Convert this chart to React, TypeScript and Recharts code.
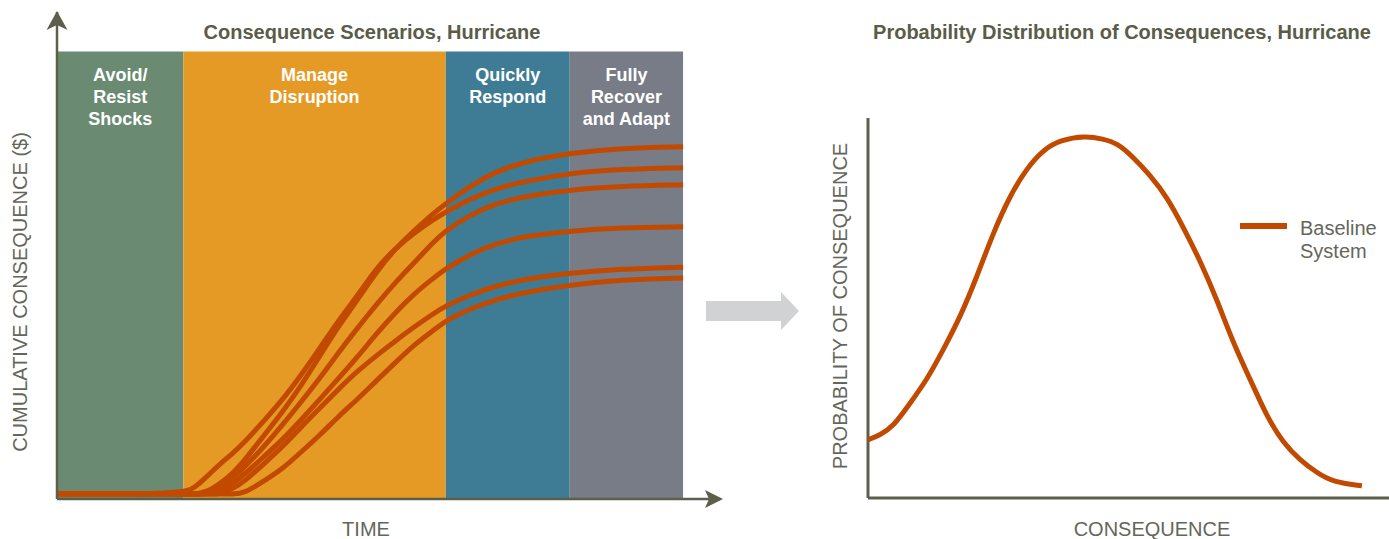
import React from "react";
import {
  ComposedChart,
  LineChart,
  Line,
  XAxis,
  YAxis,
  ReferenceArea,
  ReferenceLine,
  Legend,
} from "recharts";

// ---- left panel: cumulative consequence scenarios ----
const TIME = [0, 20, 22, 24, 26, 28, 30, 33, 36, 39, 42, 45, 48, 51, 54, 57, 60, 62, 66, 70, 75, 82, 90, 100];
const SCENARIO_1 = [1.1, 1.1, 2.5, 5.1, 7.8, 10.1, 12.7, 17.4, 22.1, 27.7, 33.7, 40.0, 45.4, 51.6, 55.9, 59.4, 62.3, 64.1, 67.0, 69.3, 71.1, 72.8, 73.7, 74.0];
const SCENARIO_2 = [1.1, 1.1, 1.1, 1.6, 3.4, 5.6, 8.7, 14.1, 19.4, 25.3, 32.0, 38.7, 44.5, 50.7, 55.9, 59.9, 63.7, 65.9, 69.9, 73.1, 75.5, 77.3, 78.4, 78.7];
const SCENARIO_3 = [1.1, 1.1, 1.1, 1.3, 2.7, 4.7, 7.2, 11.6, 16.5, 21.7, 27.0, 32.8, 38.2, 43.4, 48.3, 52.7, 57.2, 59.9, 63.5, 66.0, 67.7, 69.1, 69.9, 70.2];
const SCENARIO_4 = [1.1, 1.1, 1.1, 1.1, 1.8, 3.4, 5.6, 9.4, 13.2, 17.7, 22.3, 27.0, 31.7, 36.9, 41.6, 45.8, 49.2, 51.4, 54.7, 57.0, 58.8, 59.9, 60.6, 60.8];
const SCENARIO_5 = [1.1, 1.1, 1.1, 1.1, 1.1, 2.2, 4.0, 7.8, 11.6, 16.1, 20.3, 24.6, 28.6, 32.0, 35.3, 38.4, 41.3, 43.1, 45.6, 47.6, 49.2, 50.5, 51.4, 51.8];
const SCENARIO_6 = [1.1, 1.1, 1.1, 1.1, 1.1, 1.1, 1.3, 4.0, 6.7, 10.5, 14.3, 18.5, 22.3, 26.4, 30.4, 34.4, 37.5, 39.8, 42.5, 44.5, 46.3, 47.8, 49.0, 49.4];
const SCENARIOS = [SCENARIO_1, SCENARIO_2, SCENARIO_3, SCENARIO_4, SCENARIO_5, SCENARIO_6];

const BAND_EDGES = [0, 20.2, 62.1, 81.9, 100];
const BAND_LABELS = [
  ["Avoid/", "Resist", "Shocks"],
  ["Manage", "Disruption"],
  ["Quickly", "Respond"],
  ["Fully", "Recover", "and Adapt"],
];
const BAND_COLORS = ["#6a8b71", "#e69a26", "#3e7c95", "#777c87"];

// ---- right panel: probability distribution ----
const CONSEQUENCE = [0, 2.3, 4.8, 8.1, 11.3, 14.4, 17.7, 20.9, 24.0, 27.3, 30.5, 33.6, 36.9, 41.7, 45.1, 47.8, 50.9, 54.1, 57.4, 60.5, 63.7, 67.0, 70.1, 73.4, 76.6, 79.7, 82.9, 86.2, 89.2, 94.8];
const PROBABILITY = [15.3, 16.6, 18.7, 25.0, 31.1, 38.9, 47.6, 58.2, 69.7, 79.7, 86.8, 91.6, 94.2, 95.3, 94.5, 93.4, 89.7, 85.0, 79.2, 71.3, 62.6, 52.1, 40.8, 31.1, 21.3, 14.5, 10.0, 6.6, 4.2, 3.2];

const FONT = '"Liberation Sans", Arial, Helvetica, sans-serif';
const AXIS = "#5d5f4b";
const TITLE = "#5a5c47";
const LABEL = "#64665a";
const CURVE = "#c14a00";

const scenarioData = TIME.map((t, i) => {
  const row: Record<string, number> = { t };
  SCENARIOS.forEach((s, k) => (row[`s${k + 1}`] = s[i]));
  return row;
});

const distData = CONSEQUENCE.map((c, i) => ({ c, p: PROBABILITY[i] }));

function bandLabel(lines: string[]) {
  return (props: any) => {
    const vb = props.viewBox || {};
    const cx = vb.x + vb.width / 2;
    return (
      <text
        x={cx}
        y={vb.y}
        textAnchor="middle"
        fill="#ffffff"
        fontFamily={FONT}
        fontWeight="bold"
        fontSize={18}
      >
        {lines.map((l, i) => (
          <tspan key={i} x={cx} y={vb.y + 30 + i * 21.6}>
            {l}
          </tspan>
        ))}
      </text>
    );
  };
}

function LegendBox(props: any) {
  const items = props.payload || [];
  return (
    <div style={{ fontFamily: FONT }}>
      {items.map((it: any, i: number) => (
        <div key={i} style={{ display: "flex", alignItems: "flex-start" }}>
          <div
            style={{
              width: 47,
              height: 6,
              marginTop: 6.5,
              marginRight: 13,
              background: it.color,
            }}
          />
          <div style={{ fontSize: 20, lineHeight: "23px", color: LABEL }}>
            {String(it.value)
              .split(" ")
              .map((w: string, j: number) => (
                <div key={j}>{w}</div>
              ))}
          </div>
        </div>
      ))}
    </div>
  );
}

export default function App() {
  return (
    <div
      style={{
        position: "absolute",
        left: 0,
        top: 0,
        width: 1389,
        height: 539,
        background: "#fff",
        overflow: "hidden",
      }}
    >
      <div style={{ position: "absolute", left: 0, top: 0 }}>
        <ComposedChart
          width={740}
          height={539}
          data={scenarioData}
          margin={{ top: 12, right: 20, bottom: 40, left: 57 }}
        >
          <XAxis type="number" dataKey="t" domain={[0, 105.9]} hide />
          <YAxis type="number" domain={[0, 108.8]} hide />
          {BAND_LABELS.map((lines, i) => (
            <ReferenceArea
              key={i}
              x1={BAND_EDGES[i]}
              x2={BAND_EDGES[i + 1]}
              y1={0}
              y2={100}
              fill={BAND_COLORS[i]}
              fillOpacity={1}
              stroke="none"
              label={bandLabel(lines)}
            />
          ))}
          {SCENARIOS.map((_, k) => (
            <Line
              key={k}
              type="basis"
              dataKey={`s${k + 1}`}
              stroke={CURVE}
              strokeWidth={5}
              dot={false}
              activeDot={false}
              isAnimationActive={false}
            />
          ))}
          <ReferenceLine x={0} stroke={AXIS} strokeWidth={2.5} ifOverflow="visible" />
          <ReferenceLine y={0} stroke={AXIS} strokeWidth={2.5} ifOverflow="visible" />
        </ComposedChart>
      </div>

      <div style={{ position: "absolute", left: 740, top: 0 }}>
        <LineChart
          width={649}
          height={539}
          data={distData}
          margin={{ top: 118, right: 0, bottom: 41, left: 128 }}
        >
          <XAxis type="number" dataKey="c" domain={[0, 100]} hide />
          <YAxis type="number" domain={[0, 100]} hide />
          <Legend
            layout="vertical"
            align="center"
            verticalAlign="middle"
            content={<LegendBox />}
            wrapperStyle={{ left: 500, top: 216.5, width: 140 }}
          />
          <ReferenceLine x={0} stroke={AXIS} strokeWidth={3} ifOverflow="visible" />
          <ReferenceLine y={0} stroke={AXIS} strokeWidth={3} ifOverflow="visible" />
          <Line
            type="basis"
            dataKey="p"
            name="Baseline System"
            stroke={CURVE}
            strokeWidth={5}
            dot={false}
            activeDot={false}
            isAnimationActive={false}
          />
        </LineChart>
      </div>

      <svg
        width={1389}
        height={539}
        style={{ position: "absolute", left: 0, top: 0, pointerEvents: "none" }}
        fontFamily={FONT}
      >
        {/* axis arrowheads, left panel */}
        <polygon points="57,11 67.5,30 57,25 46.5,30" fill={AXIS} />
        <polygon points="723,499 705,490 709,499 705,508" fill={AXIS} />
        {/* transition arrow between panels */}
        <polygon
          points="706,301 781,301 781,292 799,311 781,330 781,321 706,321"
          fill="#d1d2d4"
        />
        <text x={372} y={39} textAnchor="middle" fontSize={20} fontWeight="bold" fill={TITLE}>
          Consequence Scenarios, Hurricane
        </text>
        <text x={1122} y={39} textAnchor="middle" fontSize={20} fontWeight="bold" fill={TITLE}>
          Probability Distribution of Consequences, Hurricane
        </text>
        <text
          x={0}
          y={0}
          transform="translate(27,292) rotate(-90)"
          textAnchor="middle"
          fontSize={20}
          fill={LABEL}
        >
          CUMULATIVE CONSEQUENCE ($)
        </text>
        <text x={366} y={536} textAnchor="middle" fontSize={20} fill={LABEL}>
          TIME
        </text>
        <text
          x={0}
          y={0}
          transform="translate(847,306) rotate(-90)"
          textAnchor="middle"
          fontSize={20}
          fill={LABEL}
        >
          PROBABILITY OF CONSEQUENCE
        </text>
        <text x={1152} y={536} textAnchor="middle" fontSize={20} fill={LABEL}>
          CONSEQUENCE
        </text>
      </svg>
    </div>
  );
}
